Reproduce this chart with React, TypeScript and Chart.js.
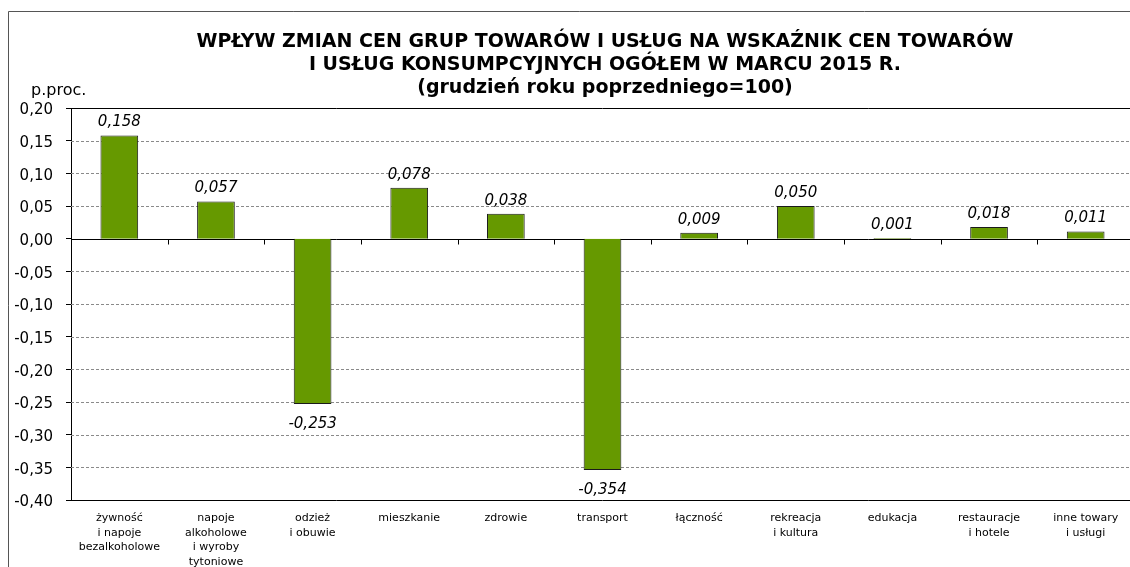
import React, { useEffect, useRef } from 'react';
import { Chart, registerables } from 'chart.js';

Chart.register(...registerables);

const TITLE_LINES = [
  'WPŁYW ZMIAN CEN GRUP TOWARÓW I USŁUG NA WSKAŹNIK CEN TOWARÓW',
  'I USŁUG KONSUMPCYJNYCH OGÓŁEM W MARCU 2015 R.',
  '(grudzień roku poprzedniego=100)',
];
const UNIT_LABEL = 'p.proc.';
const CATEGORIES: string[][] = [
  ['żywność', 'i napoje', 'bezalkoholowe'],
  ['napoje', 'alkoholowe', 'i wyroby', 'tytoniowe'],
  ['odzież', 'i obuwie'],
  ['mieszkanie'],
  ['zdrowie'],
  ['transport'],
  ['łączność'],
  ['rekreacja', 'i kultura'],
  ['edukacja'],
  ['restauracje', 'i hotele'],
  ['inne towary', 'i usługi'],
];
const VALUES = [0.158, 0.057, -0.253, 0.078, 0.038, -0.354, 0.009, 0.05, 0.001, 0.018, 0.011];
const Y_MIN = -0.4;
const Y_MAX = 0.2;
const Y_STEP = 0.05;

const FONT = "'DejaVu Sans', sans-serif";
const BAR_COLOR = '#669900';

const fmt = (v: number, d: number) => v.toFixed(d).replace('.', ',');

const decorPlugin = {
  id: 'decor',
  beforeDatasetsDraw(chart: any) {
    const { ctx, chartArea: a, scales } = chart;
    const y = scales.y;
    const x = scales.x;
    ctx.save();
    // dashed gridlines
    ctx.strokeStyle = '#8a8a8a';
    ctx.lineWidth = 1;
    ctx.setLineDash([3, 2]);
    y.ticks.forEach((t: any) => {
      const v = t.value;
      if (Math.abs(v) < 1e-9 || Math.abs(v - Y_MIN) < 1e-9 || Math.abs(v - Y_MAX) < 1e-9) return;
      const py = Math.round(y.getPixelForValue(v)) + 0.5;
      ctx.beginPath();
      ctx.moveTo(a.left, py);
      ctx.lineTo(a.right, py);
      ctx.stroke();
    });
    ctx.setLineDash([]);
    ctx.strokeStyle = '#000';
    // top and bottom frame
    const top = Math.round(y.getPixelForValue(Y_MAX)) + 0.5;
    const bot = Math.round(y.getPixelForValue(Y_MIN)) + 0.5;
    ctx.beginPath();
    ctx.moveTo(a.left, top);
    ctx.lineTo(a.right, top);
    ctx.moveTo(a.left, bot);
    ctx.lineTo(a.right, bot);
    ctx.stroke();
    // zero line
    const zy = Math.round(y.getPixelForValue(0)) + 0.5;
    ctx.beginPath();
    ctx.moveTo(a.left, zy);
    ctx.lineTo(a.right, zy);
    // category boundary tick marks on the zero line
    const half = (x.getPixelForValue(1) - x.getPixelForValue(0)) / 2;
    for (let i = 0; i <= CATEGORIES.length; i++) {
      const px = Math.round(x.getPixelForValue(i) - half) + 0.5;
      ctx.moveTo(px, zy);
      ctx.lineTo(px, zy + 5);
    }
    ctx.stroke();
    ctx.restore();
  },
  afterDraw(chart: any) {
    const { ctx } = chart;
    ctx.save();
    // data labels
    ctx.fillStyle = '#000';
    ctx.font = `italic 15px ${FONT}`;
    ctx.textAlign = 'center';
    ctx.textBaseline = 'alphabetic';
    chart.getDatasetMeta(0).data.forEach((bar: any, i: number) => {
      const v = VALUES[i];
      const ty = v >= 0 ? bar.y - 9 : bar.y + 24;
      ctx.fillText(fmt(v, 3), bar.x, ty);
    });
    // title
    ctx.font = `bold 19px ${FONT}`;
    const baselines = [47, 70, 93];
    TITLE_LINES.forEach((line, i) => ctx.fillText(line, 605, baselines[i]));
    // unit label
    ctx.font = `16px ${FONT}`;
    ctx.textAlign = 'left';
    ctx.fillText(UNIT_LABEL, 31, 95);
    // outer frame
    ctx.strokeStyle = '#555';
    ctx.lineWidth = 1;
    ctx.beginPath();
    ctx.moveTo(8.5, chart.height);
    ctx.lineTo(8.5, 11.5);
    ctx.lineTo(chart.width, 11.5);
    ctx.stroke();
    ctx.restore();
  },
};

export default function App() {
  const ref = useRef<HTMLCanvasElement>(null);
  useEffect(() => {
    if (!ref.current) return;
    Chart.defaults.font.family = FONT;
    const chart = new Chart(ref.current, {
      type: 'bar',
      data: {
        labels: CATEGORIES,
        datasets: [
          {
            data: VALUES,
            backgroundColor: BAR_COLOR,
            borderColor: '#1a1a1a',
            borderWidth: 1,
            barPercentage: 0.39,
            categoryPercentage: 1,
          },
        ],
      },
      options: {
        responsive: false,
        animation: false,
        devicePixelRatio: 1,
        layout: { padding: { top: 108, right: 16, bottom: 0, left: 0 } },
        plugins: {
          legend: { display: false },
          tooltip: { enabled: false },
          title: { display: false },
        },
        scales: {
          x: {
            grid: { display: false, drawTicks: false },
            border: { display: false },
            ticks: {
              color: '#000',
              font: { size: 11, lineHeight: 1.33 },
              padding: 11,
              autoSkip: false,
              maxRotation: 0,
              minRotation: 0,
            },
            afterFit: (s: any) => {
              s.height = 100;
            },
          },
          y: {
            min: Y_MIN,
            max: Y_MAX,
            grid: { drawOnChartArea: false, drawTicks: true, tickLength: 5, color: '#000' },
            border: { display: true, color: '#000', width: 1 },
            ticks: {
              stepSize: Y_STEP,
              color: '#000',
              padding: 13,
              font: { size: 15, lineHeight: '5px' as any },
              callback: (v: any) => ['', fmt(Number(v), 2)],
            },
            afterFit: (s: any) => {
              s.width = 71;
            },
          },
        },
      },
      plugins: [decorPlugin],
    });
    return () => chart.destroy();
  }, []);

  return (
    <div
      style={{
        position: 'fixed',
        left: 0,
        top: 0,
        width: 1130,
        height: 567,
        overflow: 'hidden',
        background: '#fff',
      }}
    >
      <canvas ref={ref} width={1150} height={600} style={{ display: 'block' }} />
    </div>
  );
}
